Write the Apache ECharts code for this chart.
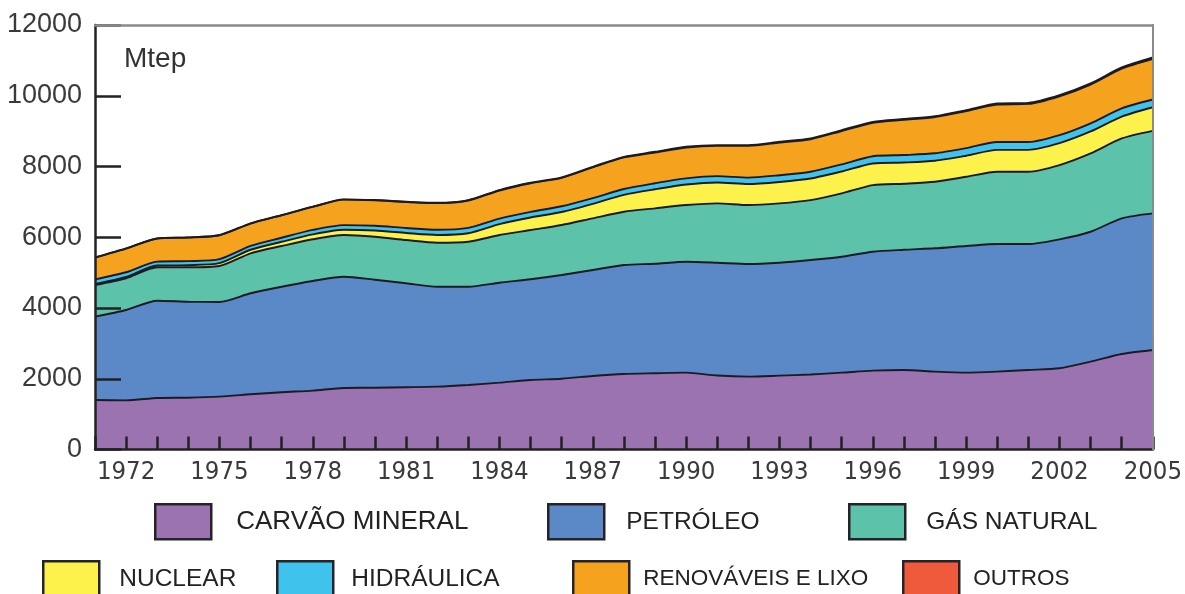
<!DOCTYPE html>
<html>
<head>
<meta charset="utf-8">
<script src="https://cdn.jsdelivr.net/npm/echarts@6/dist/echarts.min.js"></script>
<style>html,body{margin:0;padding:0;background:#fff}#c{width:1185px;height:594px}</style>
</head>
<body>
<div id="c"></div>
<script>
var years = ['1971','1972','1973','1974','1975','1976','1977','1978','1979','1980','1981','1982','1983','1984','1985','1986','1987','1988','1989','1990','1991','1992','1993','1994','1995','1996','1997','1998','1999','2000','2001','2002','2003','2004','2005'];
var carvao = [1400,1390,1455,1465,1495,1560,1620,1665,1740,1745,1760,1777,1825,1890,1966,2000,2079,2136,2155,2172,2090,2060,2088,2120,2172,2230,2249,2201,2172,2201,2249,2297,2483,2700,2814];
var petroleo = [2355,2554,2751,2713,2675,2856,2982,3098,3145,3055,2938,2825,2777,2825,2845,2932,2995,3079,3095,3136,3190,3183,3192,3236,3278,3361,3396,3486,3580,3607,3559,3644,3673,3834,3862];
var gas = [895,896,944,972,1017,1130,1150,1179,1177,1214,1223,1243,1272,1347,1393,1413,1461,1505,1567,1602,1678,1667,1678,1695,1790,1884,1868,1881,1957,2043,2043,2099,2214,2260,2333];
var nuclear = [30,40,50,60,80,100,120,140,150,175,200,220,240,310,355,370,410,480,540,580,590,595,605,610,620,610,600,595,595,620,620,620,620,615,665];
var hidraulica = [130,130,110,115,115,110,115,125,130,135,140,145,150,155,160,160,160,165,170,175,180,180,190,190,200,205,210,210,215,220,220,225,230,235,220];
var renovaveis = [617,671,654,667,674,631,634,650,722,719,736,755,776,795,808,803,871,891,870,872,856,898,922,919,944,947,995,1023,1046,1062,1078,1100,1095,1121,1152];
var outros = [5,5,5,5,6,6,6,7,7,8,9,10,11,12,13,15,16,18,19,20,21,22,23,24,25,26,27,28,29,30,31,32,33,35,37];
var yTicks = [0,2000,4000,6000,8000,10000,12000];

var names = ['CARVÃO MINERAL','PETRÓLEO','GÁS NATURAL','NUCLEAR','HIDRÁULICA','RENOVÁVEIS E LIXO','OUTROS'];
var colors = ['#9b73b1','#5b88c6','#5cc3aa','#fdf24c','#3fc3ec','#f5a31f','#f05a3c'];
var datas = [carvao,petroleo,gas,nuclear,hidraulica,renovaveis,outros];

var series = [];
datas.forEach(function(d,i){
  series.push({
    name: names[i], type:'line', stack:'area', data:d, showSymbol:false, symbol:'none',
    smooth:0.25, color: colors[i],
    lineStyle:{width:0}, areaStyle:{color:colors[i], opacity:1}, itemStyle:{color:colors[i]},
    silent:true, z:2
  });
});
datas.forEach(function(d,i){
  series.push({
    name: '_l'+i, type:'line', stack:'lines', data:d, showSymbol:false, symbol:'none',
    smooth:0.25, lineStyle:{width:1.9, color:'#1c1a22'}, silent:true, z:3
  });
});

var legendCfg = [
  {left:154, top:503, fs:26, pad:20},
  {left:547, top:503, fs:24.5, pad:17},
  {left:848, top:503, fs:24.5, pad:16},
  {left:42, top:560, fs:24.5, pad:15},
  {left:276, top:560, fs:24.5, pad:13},
  {left:572, top:560, fs:22.5, pad:9},
  {left:902, top:560, fs:22.5, pad:9}
];
var legends = names.map(function(n,i){
  var c = legendCfg[i];
  return {
    data:[n], left:c.left, top:c.top, padding:0,
    itemWidth:56, itemHeight:35, icon:'rect', selectedMode:false,
    itemStyle:{borderColor:'#262326', borderWidth:2.5},
    textStyle:{fontFamily:'Liberation Sans, Arial, sans-serif', fontSize:c.fs, color:'#222', padding:[0,0,0,c.pad]}
  };
});

var chart = echarts.init(document.getElementById('c'), null, {renderer:'canvas'});
chart.setOption({
  animation:false,
  backgroundColor:'#fff',
  title:{text:'Mtep', left:119, top:40, textStyle:{fontFamily:'Liberation Sans, Arial, sans-serif', fontSize:28, fontWeight:'normal', color:'#333'}},
  legend: legends,
  grid:{left:95, right:30, top:25, bottom:144.5, containLabel:false},
  xAxis:[{
    type:'category', data:years, boundaryGap:false, z:10,
    axisLine:{onZero:false, lineStyle:{color:'#222', width:2.5}},
    axisTick:{inside:true, length:13, interval:0, lineStyle:{color:'#222', width:2.5}},
    axisLabel:{interval:function(idx){return idx%3===1;}, margin:10, fontFamily:"'DejaVu Sans Condensed','Liberation Sans Narrow',sans-serif", fontSize:25.5, color:'#3a3a3a'},
    splitLine:{show:false}
  },{
    type:'category', data:years, boundaryGap:false, position:'top', z:12,
    axisLine:{onZero:false, lineStyle:{color:'#8a8a8a', width:2.5}}, axisTick:{show:false}, axisLabel:{show:false}
  }],
  yAxis:[{
    type:'value', min:yTicks[0], max:yTicks[yTicks.length-1], interval:2000, z:10,
    axisLine:{show:true, onZero:false, lineStyle:{color:'#222', width:2.5}},
    axisTick:{show:true, inside:true, length:26, lineStyle:{color:'#222', width:2.5}},
    axisLabel:{margin:13, formatter:function(v){return String(v);}, fontFamily:'Liberation Sans, Arial, sans-serif', fontSize:27, color:'#3a3a3a'},
    splitLine:{show:false}
  },{
    type:'value', min:yTicks[0], max:yTicks[yTicks.length-1], interval:2000, position:'right', z:11,
    axisLine:{show:true, onZero:false, lineStyle:{color:'#8a8a8a', width:2}}, axisTick:{show:false}, axisLabel:{show:false}, splitLine:{show:false}
  }],
  series: series
});
</script>
</body>
</html>
